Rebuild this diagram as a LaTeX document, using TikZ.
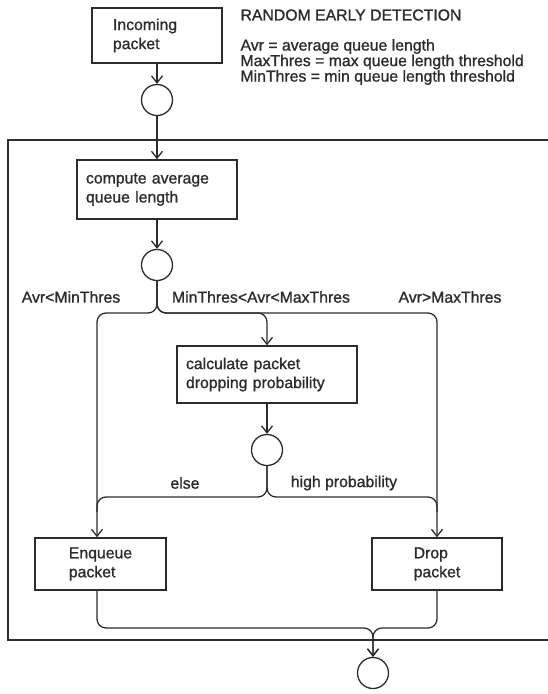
\documentclass[tikz,border=0pt]{standalone}
\usepackage{fontspec}
\setmainfont{Liberation Sans}[FakeBold=1.2]
\usetikzlibrary{arrows.meta}
\definecolor{ink}{HTML}{2C2C2C}
\begin{document}
\begin{tikzpicture}[x=1pt,y=-1pt,
  every node/.style={font=\fontsize{15.8}{19}\selectfont, text=ink},
  box/.style={draw=ink, line width=1.4pt, rectangle, inner sep=0pt},
  junc/.style={draw=ink, line width=1.3pt, circle, minimum size=31pt, inner sep=0pt},
  flow/.style={draw=ink, line width=1.3pt, rounded corners=9pt},
  arr/.style={-{Straight Barb[length=7pt,width=11pt]}},
  frame/.style={draw=ink, line width=1.3pt}
]
\useasboundingbox (0,0) rectangle (548,694);

% enclosing frame (open on the right)
\draw[frame] (549,140) -- (8,140) -- (8,640) -- (549,640);

% heading and legend
\node[anchor=west] (title) at (237,15) {RANDOM EARLY DETECTION};
\node[anchor=west, align=left, font=\fontsize{15.8}{15.5}\selectfont] (legend) at (237,62)
  {Avr = average queue length\\MaxThres = max queue length threshold\\MinThres = min queue length threshold};

% boxes and junctions
\node[box, text width=88pt, align=left, minimum width=130pt, minimum height=55pt] (inc) at (157,35.5) {Incoming\\packet};
\node[junc] (j1) at (157,100) {};
\node[box, text width=142pt, align=left, minimum width=160pt, minimum height=59pt] (comp) at (157,189.5) {compute average\\queue length};
\node[junc] (j2) at (157,265) {};
\node[box, text width=162pt, align=left, minimum width=180pt, minimum height=57pt] (calc) at (267,374.5) {calculate packet\\dropping probability};
\node[junc] (j3) at (267,450) {};
\node[box, align=left, minimum width=131pt, minimum height=52pt] (enq) at (100.5,564) {Enqueue\\packet};
\node[box, align=left, minimum width=130pt, minimum height=52pt] (drop) at (437,564) {Drop\\packet};
\node[junc] (j4) at (373,673) {};

% branch labels
\node (lmin) at (71,297) {Avr<MinThres};
\node (lmid) at (261,297) {MinThres<Avr<MaxThres};
\node (lmax) at (450,297) {Avr>MaxThres};
\node (lelse) at (185,483) {else};
\node (lhigh) at (344,483) {high probability};

% routing corners
\coordinate (aL) at (97,313);
\coordinate (aM) at (267,313);
\coordinate (aR) at (437,313);
\coordinate (bL) at (97,497);
\coordinate (bR) at (437,497);
\coordinate (cM) at (373,628);

% connectors
\draw[flow,arr] (inc.south) -- (j1.north);
\draw[flow,arr] (j1.south) -- (comp.north);
\draw[flow,arr] (comp.south) -- (j2.north);
\draw[flow,arr] (j2.south) |- (aL) -- (aL |- enq.north);
\draw[flow,arr] (j2.south) |- (aR) -- (aR |- drop.north);
\draw[flow,arr] (j2.south) |- (aM) -- (calc.north);
\draw[flow,arr] (calc.south) -- (j3.north);
\draw[flow] (j3.south) |- (bL) -- ++(0,15);
\draw[flow] (j3.south) |- (bR) -- ++(0,15);
\draw[flow,arr] (aL |- enq.south) |- (cM) -- (j4.north);
\draw[flow,arr] (aR |- drop.south) |- (cM) -- (j4.north);
\end{tikzpicture}
\end{document}
